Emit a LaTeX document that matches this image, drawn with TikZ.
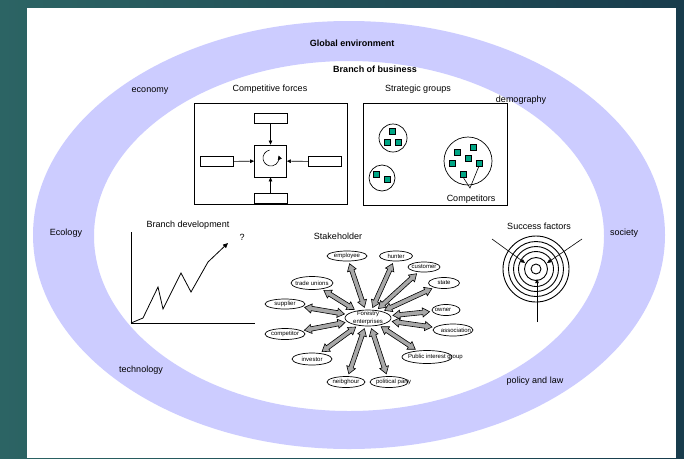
\documentclass[tikz,border=0pt]{standalone}
\usepackage{fontspec}
\setmainfont{Liberation Sans}
\usetikzlibrary{shapes.geometric,arrows.meta,calc}
\definecolor{band}{RGB}{204,204,255}
\definecolor{tealL}{RGB}{44,100,100}
\definecolor{tealR}{RGB}{24,60,76}
\definecolor{member}{RGB}{0,166,133}
\definecolor{arrowgray}{RGB}{168,168,168}

% two-headed block arrow between the borders of two nodes
\newcommand\bothways[2]{%
  \path (#1) -- (#2) coordinate[pos=0] (ba0) coordinate[pos=1] (ba1);
  \coordinate (bA) at ($(ba0)!2.5pt!(ba1)$);
  \coordinate (bB) at ($(ba1)!2.5pt!(ba0)$);
  \filldraw[fill=arrowgray, line width=0.6pt, line join=miter]
    (bA) -- ($(bA)!7pt!(bB)!4.6pt!90:(bB)$) -- ($(bA)!7pt!(bB)!2.2pt!90:(bB)$)
    -- ($(bB)!7pt!(bA)!2.2pt!-90:(bA)$) -- ($(bB)!7pt!(bA)!4.6pt!-90:(bA)$)
    -- (bB) -- ($(bB)!7pt!(bA)!4.6pt!90:(bA)$) -- ($(bB)!7pt!(bA)!2.2pt!90:(bA)$)
    -- ($(bA)!7pt!(bB)!2.2pt!-90:(bB)$) -- ($(bA)!7pt!(bB)!4.6pt!-90:(bB)$) -- cycle;
}

\begin{document}
\begin{tikzpicture}[x=1pt,y=-1pt,
  lbl/.style={font=\fontsize{9}{10}\selectfont, inner sep=0pt},
  ttl/.style={font=\bfseries\fontsize{9}{10}\selectfont, inner sep=0pt},
  force/.style={draw, line width=0.7pt, inner sep=0pt, minimum width=33pt, minimum height=10pt},
  tip/.style={-{Triangle[length=4pt,width=3.5pt]}, line width=0.6pt},
  member/.style={draw, fill=member, line width=0.5pt, inner sep=0pt, minimum size=5.5pt},
  stake/.style={ellipse, draw, line width=0.7pt, inner sep=0pt, minimum width=#1,
    minimum height=11pt, font=\fontsize{6}{7}\selectfont}]

% slide background and frame
\shade[left color=tealL, right color=tealR] (0,0) rectangle (684,458);
\useasboundingbox (0,0) rectangle (684,458);
\fill[white] (27,8) rectangle (676,458);

% environment ring
\fill[band, even odd rule] (349,235) ellipse[x radius=316, y radius=214]
                           (349,236) ellipse[x radius=255, y radius=175];

% headings and ring labels
\node[ttl] (ge) at (352,43) {Global environment};
\node[ttl] (bb) at (375,69) {Branch of business};
\node[lbl] (eco) at (150,91) {economy};
\node[lbl] (dem) at (521,100) {demography};
\node[lbl] (ecol) at (66,233) {Ecology};
\node[lbl] (soc) at (624,233) {society};
\node[lbl] (tech) at (141,370) {technology};
\node[lbl] (plaw) at (535,381) {policy and law};

% competitive forces
\node[lbl] (cf) at (270,89) {Competitive forces};
\draw[line width=0.7pt] (194,103) rectangle (347,204);
\node[force] (ftop) at (270.5,118) {};
\node[force] (fbot) at (270.5,198.5) {};
\node[force] (fleft) at (216.5,161.5) {};
\node[force] (fright) at (325,161.5) {};
\node[draw, line width=0.7pt, inner sep=0pt, minimum size=32pt] (fc) at (270.5,161) {};
\draw[tip] (ftop) -- (fc);
\draw[tip] (fbot) -- (fc);
\draw[tip] (fleft) -- (fc);
\draw[tip] (fright) -- (fc);
\draw[-{Triangle[length=4pt,width=4pt]}, line width=0.6pt]
  ([shift={(-100:8)}]271,158) arc[start angle=-100, end angle=-378, radius=8];

% strategic groups
\node[lbl] (sg) at (418,89) {Strategic groups};
\draw[line width=0.7pt] (363,103) rectangle (507,205);
\draw[line width=0.7pt] (393,138) circle[radius=14];
\draw[line width=0.7pt] (382,178) circle[radius=13];
\draw[line width=0.7pt] (468,161) circle[radius=24];
\node[member] (a1) at (392,131) {};
\node[member] (a2) at (387,142) {};
\node[member] (a3) at (398,142) {};
\node[member] (b1) at (376,174) {};
\node[member] (b2) at (387,179) {};
\node[member] (c1) at (457,152) {};
\node[member] (c2) at (473,147) {};
\node[member] (c3) at (452,163) {};
\node[member] (c4) at (468,158) {};
\node[member] (c5) at (479,163) {};
\node[member] (c6) at (463,174) {};
\coordinate (cpt) at (470,188);
\draw[line width=0.6pt] (c6.south) -- (cpt) -- (c5.south);
\node[lbl] (cmp) at (471,199) {Competitors};

% branch development chart
\node[lbl] (bd) at (188,225) {Branch development};
\node[lbl] (q) at (242,237) {?};
\draw[line width=1pt] (131,232) -- (131,323) -- (255,323);
\draw[-{Triangle[length=5pt,width=4.5pt]}, line width=0.8pt, line join=miter]
  (131,323) -- (143,318) -- (158,287) -- (163,309) -- (181,273) -- (191,292)
  -- (208,262) -- (228,243);

% success factors target
\node[lbl] (sfl) at (539,226) {Success factors};
\coordinate (sfc) at (536,269);
\foreach \r in {33,27.5,22.5,17.5,11.5}
  \draw[line width=0.9pt] (sfc) circle[radius=\r];
\draw[line width=0.9pt] (sfc) circle[radius=5];
\coordinate (sf1) at (492,239);
\coordinate (sf2) at (582,239);
\coordinate (sf3) at (537,322);
\coordinate (sfe1) at (525,263);
\coordinate (sfe2) at (547,263);
\coordinate (sfe3) at (537,279);
\draw[tip] (sf1) -- (sfe1);
\draw[tip] (sf2) -- (sfe2);
\draw[tip] (sf3) -- (sfe3);

% stakeholders
\node[lbl] (sh) at (338,236) {Stakeholder};
\node[stake=46pt, minimum height=16pt] (fe) at (368,318)
  {\raisebox{-1.5pt}[0pt][0pt]{\fontsize{6}{8}\selectfont\begin{tabular}{@{}c@{}}Forestry\\enterprises\end{tabular}}};
\node[stake=40pt, minimum height=10pt] (emp) at (347,256) {\makebox[0pt]{employee}};
\node[stake=33pt, minimum height=10pt] (hun) at (396,256) {\makebox[0pt]{hunter}};
\node[stake=32pt, minimum height=10pt] (cus) at (424,267) {\makebox[0pt]{customer}};
\node[stake=42pt, minimum height=13pt] (tu) at (312,283) {\makebox[0pt]{trade unions}};
\node[stake=31pt] (sta) at (444,283) {\makebox[0pt]{state}};
\node[stake=40pt, minimum height=10pt] (sup) at (285,304) {\makebox[0pt]{supplier}};
\node[stake=28pt] (own) at (446,310) {\makebox[0pt]{owner\hspace{6pt}}};
\node[stake=40pt] (com) at (285,334) {\makebox[0pt]{competitor}};
\node[stake=40pt, minimum height=12pt] (ass) at (453,330) {\makebox[0pt]{\hspace{6pt}association}};
\node[stake=40pt, minimum height=12pt] (inv) at (312,359) {\makebox[0pt]{investor}};
\node[stake=50pt, minimum height=13pt] (pig) at (427,357) {\makebox[0pt][l]{\hspace{-19pt}Public interest group}};
\node[stake=38pt] (nei) at (346,382) {\makebox[0pt]{neibghour}};
\node[stake=38pt] (pp) at (389,382) {\makebox[0pt][l]{\hspace{-13pt}political party}};

\foreach \s in {emp,hun,cus,tu,sta,sup,own,com,ass,inv,pig,nei,pp}
  \bothways{fe}{\s};

\end{tikzpicture}
\end{document}
